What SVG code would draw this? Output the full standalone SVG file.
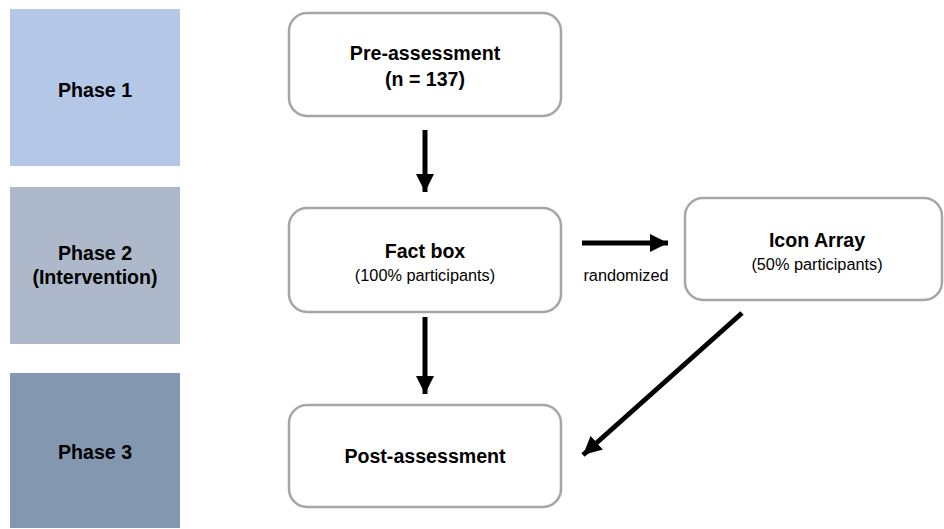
<svg xmlns="http://www.w3.org/2000/svg" width="944" height="529" viewBox="0 0 944 529">
<style>
.box{fill:#ffffff;stroke:#a6a6a6;stroke-width:2.5}
.t{font-family:"Liberation Sans",Arial,sans-serif;fill:#000;text-anchor:middle}
.b{font-weight:bold;font-size:19.6px}
.s{font-size:16.3px}
.arr{stroke:#000;stroke-width:5;fill:none}
</style>
<defs>
<marker id="ah" viewBox="0 0 10 10" refX="10" refY="5" markerWidth="3.7" markerHeight="3.7" markerUnits="strokeWidth" orient="auto">
<path d="M0,0 L10,5 L0,10 Z" fill="#000"/>
</marker>
</defs>
<g id="phase1">
<rect x="10" y="9" width="170" height="157" fill="#b4c7e7"/>
<text class="t b" x="95" y="97">Phase 1</text>
</g>
<g id="phase2">
<rect x="10" y="187" width="170" height="157" fill="#adb9ca"/>
<text class="t b" x="95" y="260">Phase 2</text>
<text class="t b" x="95" y="284">(Intervention)</text>
</g>
<g id="phase3">
<rect x="10" y="373" width="170" height="155" fill="#8497b0"/>
<text class="t b" x="95" y="459">Phase 3</text>
</g>
<g id="pre">
<rect class="box" x="289" y="13" width="272" height="103" rx="18"/>
<text class="t b" x="425" y="60">Pre-assessment</text>
<text class="t b" x="425" y="86">(n = 137)</text>
</g>
<g id="fact">
<rect class="box" x="289" y="208" width="272" height="104" rx="18"/>
<text class="t b" x="425" y="258">Fact box</text>
<text class="t s" x="425" y="281">(100% participants)</text>
</g>
<g id="icon">
<rect class="box" x="685" y="198" width="257" height="102" rx="18"/>
<text class="t b" x="817" y="247">Icon Array</text>
<text class="t s" x="817" y="270">(50% participants)</text>
</g>
<g id="post">
<rect class="box" x="289" y="405" width="272" height="102" rx="18"/>
<text class="t b" x="425" y="463">Post-assessment</text>
</g>
<g id="connectors">
<line class="arr" x1="425" y1="130" x2="425" y2="192" marker-end="url(#ah)"/>
<line class="arr" x1="425" y1="317" x2="425" y2="394" marker-end="url(#ah)"/>
<line class="arr" x1="582" y1="243" x2="668" y2="243" marker-end="url(#ah)"/>
<line class="arr" x1="742" y1="313" x2="583" y2="455" marker-end="url(#ah)"/>
<text class="t s" x="626" y="281">randomized</text>
</g>
</svg>
